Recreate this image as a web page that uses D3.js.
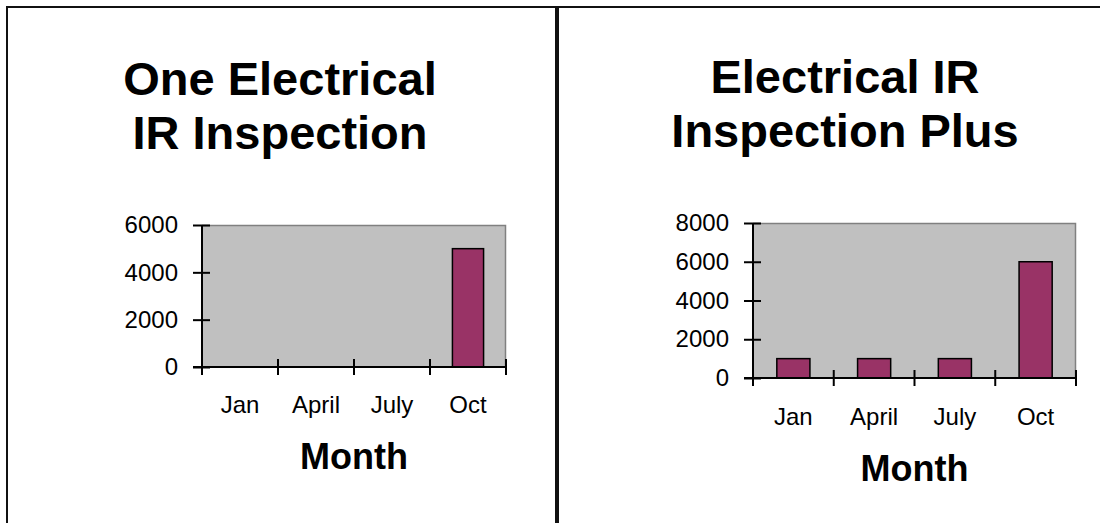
<!DOCTYPE html>
<html>
<head>
<meta charset="utf-8">
<script src="https://cdn.jsdelivr.net/npm/d3@7"></script>
<style>
  body { margin: 0; background: #fff; }
  svg text { font-family: Arial, "Liberation Sans", sans-serif; fill: #000; }
</style>
</head>
<body>
<div id="chart"></div>
<script>
var months = ["Jan", "April", "July", "Oct"]
var oneInspection = [0, 0, 0, 5000]
var inspectionPlus = [1000, 1000, 1000, 6000]
var leftTicks = [0, 2000, 4000, 6000]
var rightTicks = [0, 2000, 4000, 6000, 8000]
var leftTitle = ["One Electrical", "IR Inspection"]
var rightTitle = ["Electrical IR", "Inspection Plus"]

var width = 1100,
	height = 523

var svg = d3.select("#chart").append("svg")
	.attr("width", width)
	.attr("height", height)

// panel frames
svg.append("rect")
	.attr("x", 7).attr("y", 7)
	.attr("width", 549).attr("height", 540)
	.attr("fill", "none").attr("stroke", "#111").attr("stroke-width", 2)
svg.append("rect")
	.attr("x", 558).attr("y", 7)
	.attr("width", 600).attr("height", 540)
	.attr("fill", "none").attr("stroke", "#111").attr("stroke-width", 2)

function drawPanel(cfg) {
	var g = svg.append("g")

	// title
	cfg.title.forEach(function (t, i) {
		g.append("text")
			.attr("x", cfg.titleX)
			.attr("y", cfg.titleY[i])
			.attr("text-anchor", "middle")
			.style("font-size", "47px")
			.style("font-weight", "bold")
			.text(t)
	})

	var x = d3.scaleBand()
		.domain(months)
		.range([cfg.left, cfg.right])
		.paddingInner(0)
		.paddingOuter(0)

	var y = d3.scaleLinear()
		.domain([0, d3.max(cfg.ticks)])
		.range([cfg.bottom, cfg.top])

	// plot area
	g.append("rect")
		.attr("x", cfg.left).attr("y", cfg.top)
		.attr("width", cfg.right - cfg.left)
		.attr("height", cfg.bottom - cfg.top)
		.attr("fill", "#c0c0c0")
	g.append("path")
		.attr("d", "M" + cfg.left + "," + (cfg.top + 0.5) + "H" + (cfg.right - 0.5) + "V" + cfg.bottom)
		.attr("fill", "none").attr("stroke", "#808080").attr("stroke-width", 1.5)

	// bars
	var bw = x.bandwidth() * 0.41
	g.selectAll(".bar")
		.data(cfg.values.map(function (v, i) { return { name: months[i], value: v } })
			.filter(function (d) { return d.value > 0 }))
		.enter().append("rect")
		.attr("class", "bar")
		.attr("x", function (d) { return x(d.name) + (x.bandwidth() - bw) / 2 })
		.attr("y", function (d) { return y(d.value) })
		.attr("width", bw)
		.attr("height", function (d) { return cfg.bottom - y(d.value) })
		.attr("fill", "#993366")
		.attr("stroke", "#000")
		.attr("stroke-width", 1.5)

	// y axis
	var yAxis = d3.axisLeft(y)
		.tickValues(cfg.ticks)
		.tickFormat(d3.format("d"))
		.tickSize(9)
		.tickPadding(15)
	var ya = g.append("g")
		.attr("transform", "translate(" + cfg.left + ",0)")
		.call(yAxis)
	ya.select(".domain").remove()
	ya.selectAll(".tick line").attr("x1", 8).attr("stroke", "#000").attr("stroke-width", 2)
	ya.selectAll(".tick text")
		.style("font-size", "24px")
		.style("font-family", "Arial, 'Liberation Sans', sans-serif")
		.attr("fill", "#000")
	g.append("line")
		.attr("x1", cfg.left).attr("x2", cfg.left)
		.attr("y1", cfg.top).attr("y2", cfg.bottom + 8)
		.attr("stroke", "#000").attr("stroke-width", 2)

	// x axis
	g.append("line")
		.attr("x1", cfg.left - 9).attr("x2", cfg.right + 1)
		.attr("y1", cfg.bottom).attr("y2", cfg.bottom)
		.attr("stroke", "#000").attr("stroke-width", 2)
	var bounds = d3.range(months.length + 1)
	g.selectAll(".xtick")
		.data(bounds)
		.enter().append("line")
		.attr("class", "xtick")
		.attr("x1", function (i) { return cfg.left + i * x.step() })
		.attr("x2", function (i) { return cfg.left + i * x.step() })
		.attr("y1", cfg.bottom - 8)
		.attr("y2", cfg.bottom + 8)
		.attr("stroke", "#000").attr("stroke-width", 2)
	g.selectAll(".xlabel")
		.data(months)
		.enter().append("text")
		.attr("class", "xlabel")
		.attr("x", function (d) { return x(d) + x.bandwidth() / 2 })
		.attr("y", cfg.labelY)
		.attr("text-anchor", "middle")
		.style("font-size", "24px")
		.text(function (d) { return d })

	g.append("text")
		.attr("x", (cfg.left + cfg.right) / 2)
		.attr("y", cfg.monthY)
		.attr("text-anchor", "middle")
		.style("font-size", "36px")
		.style("font-weight", "bold")
		.text("Month")
}

drawPanel({
	title: leftTitle, titleX: 280, titleY: [95, 149],
	values: oneInspection, ticks: leftTicks,
	left: 202, right: 506, top: 225, bottom: 367,
	labelY: 413, monthY: 469
})

drawPanel({
	title: rightTitle, titleX: 845, titleY: [93, 147],
	values: inspectionPlus, ticks: rightTicks,
	left: 753, right: 1076, top: 223, bottom: 378,
	labelY: 425, monthY: 481
})
</script>
</body>
</html>
